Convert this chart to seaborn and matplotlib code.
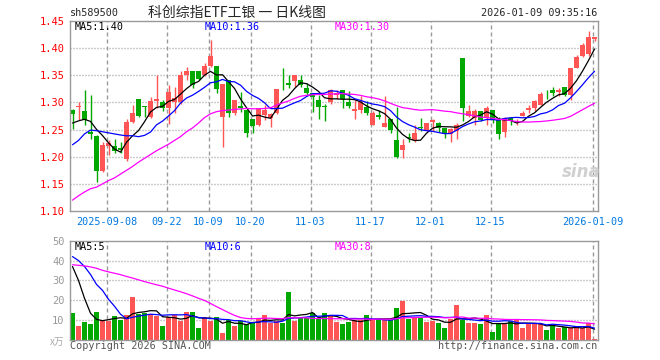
import numpy as np
import pandas as pd
import matplotlib
matplotlib.use("Agg")
import matplotlib.pyplot as plt
import seaborn as sns

# daily K-line data, 2025-08-29 .. 2026-01-09 (88 trading days)
opens = [1.286, 1.291, 1.284, 1.246, 1.238, 1.173, 1.220, 1.219, 1.216, 1.195,
         1.264, 1.306, 1.293, 1.273, 1.303, 1.300, 1.289, 1.300, 1.301, 1.351,
         1.357, 1.357, 1.351, 1.367, 1.367, 1.273, 1.341, 1.281, 1.293, 1.286,
         1.269, 1.258, 1.277, 1.272, 1.280, 1.342, 1.336, 1.340, 1.341, 1.327,
         1.317, 1.304, 1.294, 1.301, 1.314, 1.323, 1.301, 1.284, 1.286, 1.292,
         1.259, 1.276, 1.255, 1.269, 1.230, 1.212, 1.237, 1.230, 1.254, 1.249,
         1.264, 1.263, 1.253, 1.241, 1.247, 1.381, 1.275, 1.272, 1.284, 1.272,
         1.286, 1.267, 1.246, 1.272, 1.264, 1.275, 1.286, 1.289, 1.296, 1.314,
         1.322, 1.320, 1.328, 1.314, 1.364, 1.386, 1.389, 1.416]
highs = [1.287, 1.301, 1.323, 1.314, 1.240, 1.228, 1.230, 1.233, 1.228, 1.269,
         1.295, 1.306, 1.294, 1.310, 1.351, 1.304, 1.332, 1.329, 1.357, 1.366,
         1.357, 1.358, 1.372, 1.415, 1.368, 1.334, 1.342, 1.305, 1.320, 1.287,
         1.270, 1.290, 1.296, 1.280, 1.325, 1.364, 1.351, 1.351, 1.351, 1.335,
         1.317, 1.314, 1.298, 1.325, 1.323, 1.323, 1.321, 1.304, 1.312, 1.302,
         1.284, 1.286, 1.312, 1.270, 1.292, 1.233, 1.243, 1.258, 1.272, 1.263,
         1.270, 1.264, 1.253, 1.252, 1.263, 1.381, 1.295, 1.288, 1.284, 1.294,
         1.286, 1.273, 1.273, 1.273, 1.269, 1.284, 1.295, 1.304, 1.319, 1.323,
         1.328, 1.327, 1.328, 1.364, 1.387, 1.409, 1.431, 1.420]
lows = [1.251, 1.267, 1.258, 1.233, 1.153, 1.171, 1.203, 1.206, 1.206, 1.193,
        1.263, 1.273, 1.273, 1.272, 1.289, 1.284, 1.261, 1.281, 1.298, 1.341,
        1.326, 1.341, 1.348, 1.366, 1.317, 1.218, 1.273, 1.277, 1.283, 1.236,
        1.243, 1.257, 1.267, 1.255, 1.278, 1.323, 1.326, 1.329, 1.329, 1.314,
        1.283, 1.270, 1.265, 1.298, 1.306, 1.290, 1.289, 1.269, 1.281, 1.277,
        1.258, 1.269, 1.255, 1.244, 1.198, 1.198, 1.228, 1.228, 1.247, 1.247,
        1.247, 1.246, 1.235, 1.227, 1.232, 1.265, 1.273, 1.259, 1.265, 1.258,
        1.263, 1.232, 1.236, 1.259, 1.259, 1.275, 1.281, 1.284, 1.295, 1.306,
        1.312, 1.312, 1.311, 1.304, 1.363, 1.384, 1.386, 1.414]
closes = [1.278, 1.293, 1.267, 1.241, 1.173, 1.221, 1.226, 1.210, 1.212, 1.264,
          1.280, 1.275, 1.291, 1.302, 1.306, 1.290, 1.320, 1.309, 1.351, 1.357,
          1.332, 1.344, 1.367, 1.386, 1.324, 1.334, 1.281, 1.304, 1.289, 1.244,
          1.257, 1.289, 1.286, 1.278, 1.325, 1.341, 1.332, 1.351, 1.332, 1.317,
          1.310, 1.292, 1.292, 1.322, 1.317, 1.306, 1.293, 1.288, 1.301, 1.280,
          1.280, 1.274, 1.262, 1.249, 1.199, 1.222, 1.235, 1.244, 1.252, 1.263,
          1.268, 1.252, 1.241, 1.251, 1.259, 1.289, 1.284, 1.284, 1.267, 1.290,
          1.267, 1.241, 1.272, 1.265, 1.266, 1.281, 1.289, 1.303, 1.315, 1.313,
          1.317, 1.322, 1.314, 1.364, 1.383, 1.405, 1.420, 1.420]
volumes = [13.7, 7.1, 9.0, 8.2, 14.0, 10.3, 9.7, 12.0, 10.0, 12.5,
           21.8, 13.0, 13.7, 12.9, 12.0, 7.0, 11.7, 12.4, 9.5, 14.0,
           14.0, 6.0, 11.5, 9.7, 11.5, 3.6, 10.3, 7.1, 9.5, 8.0,
           9.2, 10.8, 12.7, 8.7, 9.5, 8.7, 24.3, 9.5, 11.0, 11.0,
           13.4, 11.0, 13.7, 12.2, 9.2, 8.0, 9.0, 10.0, 10.0, 12.5,
           10.3, 10.0, 10.3, 10.3, 16.2, 19.6, 10.5, 11.7, 11.2, 9.2,
           9.8, 8.7, 6.0, 10.8, 17.6, 10.2, 8.5, 8.5, 8.0, 12.5,
           3.9, 8.5, 8.5, 9.7, 10.0, 6.0, 8.2, 8.2, 8.2, 5.0,
           7.3, 6.0, 6.3, 6.0, 6.0, 6.0, 8.8, 0.4]

# moving-average values before enough history is on the chart
ma5_head = [1.262, 1.266, 1.269, 1.265]
ma10_head = [1.222, 1.230, 1.242, 1.249, 1.248, 1.246, 1.244, 1.242, 1.240]
ma30_head = [1.120, 1.128, 1.135, 1.141, 1.144, 1.150, 1.156, 1.161, 1.168, 1.175,
             1.182, 1.190, 1.197, 1.204, 1.211, 1.217, 1.223, 1.230, 1.237, 1.246,
             1.253, 1.262, 1.272, 1.279, 1.283, 1.285, 1.286, 1.287, 1.288]
vma5_head = [37.0, 30.0, 21.0, 13.5]
vma10_head = [42.0, 40.0, 37.0, 33.0, 28.0, 25.0, 20.5, 17.0, 13.0]
vma30_head = [37.9, 37.6, 37.3, 36.8, 36.1, 35.1, 34.3, 33.6, 32.9, 32.0,
              31.2, 30.3, 29.4, 28.6, 27.8, 27.1, 26.1, 25.2, 24.3, 23.3,
              22.2, 21.0, 19.9, 18.4, 16.8, 15.3, 13.8, 12.4, 11.3]

holidays = ['2025-10-01', '2025-10-02', '2025-10-03', '2025-10-06', '2025-10-07',
            '2025-10-08', '2026-01-01', '2026-01-02']
tick_dates = ['2025-09-08', '2025-09-22', '2025-10-09', '2025-10-20', '2025-11-03',
              '2025-11-17', '2025-12-01', '2025-12-15', '2026-01-09']
tick_labels = ['2025-09-08', '09-22', '10-09', '10-20', '11-03',
               '11-17', '12-01', '12-15', '2026-01-09']

RED = '#ff5555'
GREEN = '#00a800'
GRID = '#999999'
MONO = 'DejaVu Sans Mono'


def moving_avg(values, n, head):
    s = pd.Series(values).rolling(n).mean().to_numpy()
    s[:n - 1] = head
    return s


def dash_segments(start, stop, on, period):
    s = np.arange(start, stop, period)
    return s, np.minimum(s + on, stop)


def draw_grid(a, xs, ys, x_lo, x_hi, y_lo, y_hi, x_px, y_px):
    # dashed verticals (4px on / 3px off) and dotted horizontals (1px on / 2px off)
    xs = np.asarray(xs, dtype=float)
    ys = np.asarray(ys, dtype=float)
    s, e = dash_segments(y_lo, y_hi, 4 / y_px, 7 / y_px)
    a.vlines(np.repeat(xs, len(s)), np.tile(s, len(xs)), np.tile(e, len(xs)),
             colors=GRID, lw=1, zorder=4)
    s, e = dash_segments(x_lo, x_hi, 1 / x_px, 3 / x_px)
    a.hlines(np.repeat(ys, len(s)), np.tile(s, len(ys)), np.tile(e, len(ys)),
             colors=GRID, lw=1, zorder=4)


days = pd.bdate_range('2025-08-29', '2026-01-09')
days = days[~days.isin(pd.to_datetime(holidays))]
df = pd.DataFrame({'open': opens, 'high': highs, 'low': lows,
                   'close': closes, 'vol': volumes}, index=days)
df['i'] = np.arange(len(df))
df['ma5'] = moving_avg(closes, 5, ma5_head)
df['ma10'] = moving_avg(closes, 10, ma10_head)
df['ma30'] = moving_avg(closes, 30, ma30_head)
df['vma5'] = moving_avg(volumes, 5, vma5_head)
df['vma10'] = moving_avg(volumes, 10, vma10_head)
df['vma30'] = moving_avg(volumes, 30, vma30_head)
colors = list(np.where(df['close'] >= df['open'], RED, GREEN))
tick_pos = [float(df.loc[d, 'i']) - 0.33 for d in pd.to_datetime(tick_dates)]

sns.set_style('white')
plt.rcParams['font.family'] = ['DejaVu Sans Mono', 'Noto Sans CJK SC']

fig = plt.figure(figsize=(6.6, 3.6), dpi=100)
ax = fig.add_axes([70 / 660, 149 / 360, 528 / 660, 190 / 360])
axv = fig.add_axes([70 / 660, 20 / 360, 528 / 660, 99.3 / 360])

xmin, xmax = -0.417, len(df) - 0.417
x_px = 528 / len(df)

# candles
ax.vlines(df['i'].to_numpy(), df['low'].to_numpy(), df['high'].to_numpy(),
          colors=colors, lw=1, zorder=5)
body = np.maximum((df['close'] - df['open']).abs().to_numpy(), 0.0009)
ax.bar(df['i'].to_numpy(), body, bottom=np.minimum(df['open'], df['close']).to_numpy(),
       width=0.75, color=colors, linewidth=0, zorder=5)
for col, c in [('ma5', 'black'), ('ma10', '#0000ff'), ('ma30', '#ff00ff')]:
    sns.lineplot(data=df, x='i', y=col, ax=ax, color=c, lw=0.9, zorder=6)

# volume
axv.bar(df['i'].to_numpy(), df['vol'].to_numpy(), width=0.8, color=colors,
        linewidth=0, zorder=5)
for col, c in [('vma5', 'black'), ('vma10', '#0000ff'), ('vma30', '#ff00ff')]:
    sns.lineplot(data=df, x='i', y=col, ax=axv, color=c, lw=0.9, zorder=6)

for a in (ax, axv):
    a.set_xlim(xmin, xmax)
    a.set_xlabel('')
    a.set_ylabel('')
    a.set_xticks(tick_pos)
    for sp in a.spines.values():
        sp.set_color('#999999')
        sp.set_linewidth(1)
        sp.set_zorder(7)
    a.tick_params(length=0)

ax.set_ylim(1.10, 1.45)
yt = np.round(np.arange(1.10, 1.451, 0.05), 2)
ax.set_yticks(yt)
ax.set_yticklabels([f'{v:.2f}' for v in yt], color='#ff0000', fontsize=7.5, family=MONO)
ax.set_xticklabels(tick_labels, color='#0078e0', fontsize=7.3, family=MONO)
ax.tick_params(axis='y', pad=4)
ax.tick_params(axis='x', pad=4)

axv.set_ylim(0, 50)
axv.set_yticks([10, 20, 30, 40, 50])
axv.set_yticklabels(['10', '20', '30', '40', '50'], color='#999999', fontsize=7.5, family=MONO)
axv.set_xticklabels([])
axv.tick_params(axis='y', pad=4)

# grid added last, above the axes background but below the marks
draw_grid(ax, tick_pos, [1.15, 1.20, 1.25, 1.30, 1.35, 1.40],
          xmin, xmax, 1.10, 1.45, x_px, 190 / 0.35)
draw_grid(axv, tick_pos, [10, 20, 30, 40], xmin, xmax, 0, 50, x_px, 99.3 / 50)


def px(x, y):
    return x / 660, 1 - y / 360


fig.text(*px(70, 13), 'sh589500', fontsize=7.3, family=MONO, va='center')
fig.text(*px(237, 13), '科创综指ETF工银 一 日K线图', fontsize=10,
         family=['Noto Sans CJK SC', 'DejaVu Sans'], va='center', ha='center')
fig.text(*px(597, 13), '2026-01-09 09:35:16', fontsize=7.3, family=MONO,
         va='center', ha='right')

last = df.iloc[-1]
for x, txt, c in [(75, f"MA5:{last['ma5']:.2f}", 'black'),
                  (205, f"MA10:{last['ma10']:.2f}", '#0000ff'),
                  (335, f"MA30:{last['ma30']:.2f}", '#ff00ff')]:
    fig.text(*px(x, 27), txt, color=c, fontsize=7.3, family=MONO, va='center')
for x, txt, c in [(75, f"MA5:{last['vma5']:.0f}", 'black'),
                  (205, f"MA10:{last['vma10']:.0f}", '#0000ff'),
                  (335, f"MA30:{last['vma30']:.0f}", '#ff00ff')]:
    fig.text(*px(x, 247), txt, color=c, fontsize=7.3, family=MONO, va='center')

fig.text(*px(50, 342), 'x万', color='#aaaaaa', fontsize=7,
         family=['Noto Sans CJK SC', 'DejaVu Sans'], va='center', style='italic')
fig.text(*px(70, 346), 'Copyright 2026 SINA.COM', color='#555555', fontsize=7.3,
         family=MONO, va='center')
fig.text(*px(597, 346), 'http://finance.sina.com.cn', color='#555555', fontsize=7.3,
         family=MONO, va='center', ha='right')
fig.text(*px(581, 172), 'sina', color='#d0d0d0', fontsize=12, fontweight='bold',
         style='italic', family='DejaVu Sans', va='center', ha='center')

fig.savefig('out.png', dpi=100, facecolor='white')
